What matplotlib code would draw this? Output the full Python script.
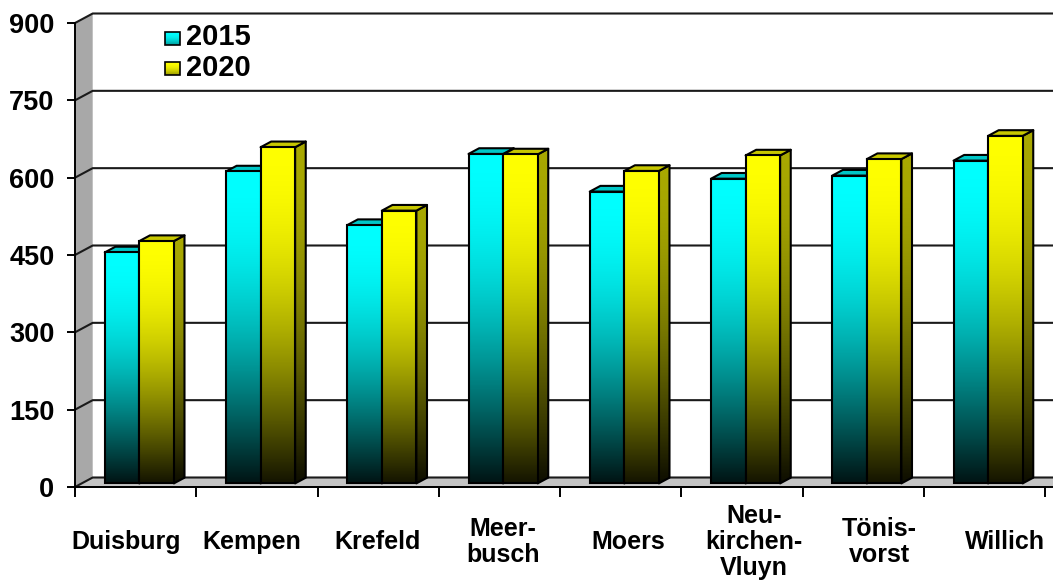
import numpy as np
import matplotlib
matplotlib.use("Agg")
import matplotlib.pyplot as plt
from matplotlib.patches import Polygon

plt.rcParams['font.family'] = ['Liberation Sans', 'DejaVu Sans']
plt.rcParams['font.weight'] = 'bold'

# data
cities = ['Duisburg', 'Kempen', 'Krefeld', 'Meer-\nbusch', 'Moers',
          'Neu-\nkirchen-\nVluyn', 'Tönis-\nvorst', 'Willich']
years = ['2015', '2020']
v2015 = [448, 605, 501, 639, 566, 591, 597, 626]
v2020 = [470, 652, 529, 638, 606, 636, 629, 674]
yticks = [0, 150, 300, 450, 600, 750, 900]

W, H = 1053, 582
fig = plt.figure(figsize=(W / 100, H / 100), dpi=100)
ax = fig.add_axes([75 / W, (H - 487) / H, 970 / W, 464 / H])

n = len(cities)
PX = 970 / n          # pixels per category
PY = 464 / 900        # pixels per value unit
DX, DY = 17.7 / PX, 9.5 / PY   # depth of the back wall
f_front = 0.38                  # depth of bar front face
f_bar = 0.6                     # bar depth
bw = 0.285
start = 0.19


def px2d(px, py):
    return (px - 75) / PX, (487 - py) / PY


def shade(t):
    return 20 / 255 + 235 / 255 * np.cos(t * np.pi / 2)


def grad_img(rgb, top=1.0):
    t = np.linspace(0, 1, 256)
    g = shade(t) * top
    return np.array(rgb)[None, None, :] * g[:, None, None]


# walls and floor
left_wall = Polygon([(0, 0), (DX, DY), (DX, 900 + DY), (0, 900)],
                    closed=True, fc='#a8a8a8', ec='none', zorder=0.5, clip_on=False)
ax.add_patch(left_wall)
floor = Polygon([(0, 0), (n + 0.2, 0), (n + 0.2 + DX, DY), (DX, DY)],
                closed=True, fc='#c4c4c4', ec='none', zorder=0.5, clip_on=False)
ax.add_patch(floor)
ax.plot([0, n + 0.2], [0, 0], color='black', lw=1.4, zorder=1, clip_on=False)

# gridlines on the back wall
for v in yticks:
    ax.plot([0, DX, n + 0.2 + DX], [v, v + DY, v + DY], color='#1a1a1a',
            lw=1.5, zorder=1, clip_on=False)

# bars
colors = [(0, 1, 1), (1, 1, 0)]
for s, vals in enumerate([v2015, v2020]):
    rgb = colors[s]
    xs = [i + start + s * bw + f_front * DX for i in range(n)]
    bars = ax.bar(xs, vals, width=bw, bottom=f_front * DY, align='edge',
                  fc='none', ec='black', lw=1.5, zorder=3 + s + 0.5)
    bdx, bdy = f_bar * DX, f_bar * DY
    for x0, v, patch in zip(xs, vals, bars.patches):
        y0 = f_front * DY
        im = ax.imshow(grad_img(rgb), extent=[x0, x0 + bw, y0, y0 + v],
                       aspect='auto', origin='upper', zorder=3 + s + 0.4)
        im.set_clip_path(patch)
        side = Polygon([(x0 + bw, y0), (x0 + bw + bdx, y0 + bdy),
                        (x0 + bw + bdx, y0 + v + bdy), (x0 + bw, y0 + v)],
                       closed=True, fc='none', ec='black', lw=1.5,
                       zorder=3 + s + 0.3, joinstyle='round')
        ax.add_patch(side)
        ims = ax.imshow(grad_img(rgb, 0.66), extent=[x0 + bw, x0 + bw + bdx, y0, y0 + v + bdy],
                        aspect='auto', origin='upper', zorder=3 + s + 0.2)
        ims.set_clip_path(side)
        top_c = tuple(c * 0.78 for c in rgb)
        top = Polygon([(x0, y0 + v), (x0 + bw, y0 + v), (x0 + bw + bdx, y0 + v + bdy),
                       (x0 + bdx, y0 + v + bdy)],
                      closed=True, fc=top_c, ec='black', lw=1.5,
                      zorder=3 + s + 0.3, joinstyle='round')
        ax.add_patch(top)

# legend
for k, (lab, rgb) in enumerate(zip(years, colors)):
    x0, y1 = px2d(165, 32 + 30 * k)
    x1, y0 = px2d(180, 45 + 30 * k)
    ax.imshow(grad_img(rgb, 1.0)[:160], extent=[x0, x1, y0, y1], aspect='auto',
              origin='upper', zorder=6)
    ax.add_patch(Polygon([(x0, y0), (x1, y0), (x1, y1), (x0, y1)], closed=True,
                         fc='none', ec='black', lw=1.2, zorder=7))
    tx, ty = px2d(186, 37 + 31 * k)
    ax.text(tx, ty, lab, fontsize=21, fontweight='bold', va='center', ha='left', zorder=7)

# category labels
for i, name in enumerate(cities):
    ax.text(0.42 + 1.036 * i, -106, name, ha='center', va='center',
            fontsize=18, fontweight='bold', clip_on=False, linespacing=1.1)

ax.set_xlim(0, n)
ax.set_ylim(0, 900)
ax.set_xticks(range(n + 1))
ax.set_xticklabels([])
ax.set_yticks(yticks)
ax.set_yticklabels([str(v) for v in yticks], fontsize=19.5, fontweight='bold')
ax.tick_params(axis='y', length=5.8, width=1.4, pad=9)
ax.tick_params(axis='x', length=7.2, width=1.4)
for sp in ['top', 'right']:
    ax.spines[sp].set_visible(False)
ax.spines['left'].set_linewidth(1.4)
ax.spines['bottom'].set_linewidth(1.4)
ax.spines['left'].set_zorder(2)
ax.patch.set_alpha(0)

fig.savefig('out.png', dpi=100)
